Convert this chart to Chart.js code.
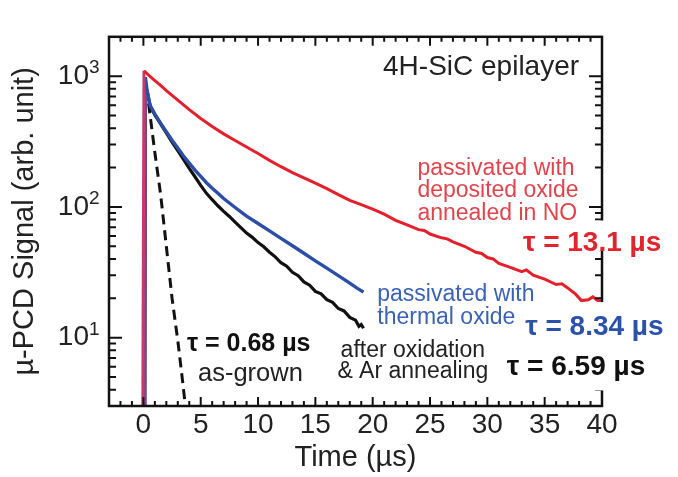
<!DOCTYPE html>
<html>
<head>
<meta charset="utf-8">
<script src="https://cdn.jsdelivr.net/npm/chart.js@4.4.1/dist/chart.umd.min.js"></script>
<style>
  html, body { margin: 0; padding: 0; background: #fff; }
</style>
</head>
<body>
<canvas id="pcd" width="678" height="477"></canvas>
<script>
// µ-PCD decay curves, time in µs, signal in arb. units
var timeTicks = [0, 5, 10, 15, 20, 25, 30, 35, 40];
var signalTicks = [10, 100, 1000];

// passivated with deposited oxide, annealed in NO
var noTime   = [-0.05, 0.05, 0.5, 1, 1.5, 2, 3, 4, 5, 6, 7, 8, 9, 10, 11, 12, 13, 14, 15, 16, 17, 18, 19, 20, 21, 22, 23, 24, 24.5, 25, 26, 26.5, 27, 28, 29, 29.5, 30, 30.5, 31, 32, 33, 33.4, 34, 35, 36, 36.5, 37, 37.7, 38.2, 38.8, 39.2, 39.6, 40];
var noSignal = [3, 1100, 1010, 925, 850, 775, 655, 555, 475, 412, 362, 322, 287, 256, 227, 203, 183, 167, 152, 138, 124, 112, 104, 96, 88, 79, 73, 67, 66, 62, 58, 57, 54, 50, 45, 44, 41, 40, 37, 34.5, 32, 33, 30, 28, 25.5, 25.8, 24, 21.5, 19.2, 19.5, 20.5, 19.3, 19];

// passivated with thermal oxide
var thermalTime   = [0.12, 0.17, 0.3, 0.57, 1, 1.5, 2, 2.5, 3, 3.5, 4, 4.5, 5, 5.5, 6, 6.5, 7, 8, 9, 10, 11, 12, 13, 14, 15, 16, 17, 18, 18.6, 19.2];
var thermalSignal = [3, 980, 800, 600, 513, 437, 376, 324, 282, 245, 216, 191, 171, 153, 139, 127, 116, 99, 85, 74.6, 65.5, 57.4, 50.4, 44.2, 38.7, 34, 29.8, 26.1, 24, 22.3];

// after oxidation & Ar annealing
var arTime   = [0.12, 0.17, 0.3, 0.6, 1, 1.5, 2, 2.5, 3, 3.5, 4, 4.5, 5, 5.5, 6, 6.5, 7, 7.5, 8, 8.5, 9, 9.5, 10, 10.5, 11, 11.5, 12, 12.5, 13, 13.5, 14, 14.5, 15, 15.5, 16, 16.5, 17, 17.5, 18, 18.5, 18.8, 19, 19.2];
var arSignal = [3, 900, 780, 590, 505, 432, 368, 313, 269, 231, 197, 170, 146, 127, 113.5, 102, 92.5, 84.5, 76.6, 69.5, 63, 58.5, 53.3, 49.5, 45, 41.5, 37.4, 35.2, 31.6, 29.8, 26.7, 25.2, 22.6, 21.6, 19.5, 18.6, 16.7, 16, 14.3, 13.6, 12.2, 12.6, 11.8];

// as-grown
var grownTime   = [0.45, 1.0, 1.5, 2.0, 2.5, 3.0, 3.4, 3.7];
var grownSignal = [620, 260, 125, 50, 20, 9.5, 4.8, 2.8];

function pts(xs, ys) {
  return xs.map(function (x, i) { return { x: x, y: ys[i] }; });
}

var FONT = "'Liberation Sans', Arial, Helvetica, sans-serif";

var notes = [
  { lines: ['4H-SiC epilayer'], x: 20.9, y: 1178, color: '#222', size: 28, bold: false, align: 'left' },
  { lines: ['passivated with', 'deposited oxide', 'annealed in NO'], x: 23.9, y: 197, color: '#e0444c', size: 23, bold: false, align: 'left', lh: 22.5 },
  { lines: ['\u03c4 = 13.1 \u00b5s'], x: 33.1, y: 52.5, color: '#e0252f', size: 28, bold: true, align: 'left', box: [-23, 6] },
  { lines: ['passivated with', 'thermal oxide'], x: 20.4, y: 21.2, color: '#3a62b6', size: 23, bold: false, align: 'left', lh: 22.5 },
  { lines: ['\u03c4 = 8.34 \u00b5s'], x: 33.3, y: 12.05, color: '#2b52aa', size: 28, bold: true, align: 'left', box: [-25, 30] },
  { lines: ['after oxidation', '& Ar annealing'], x: 23.5, y: 7.97, color: '#222', size: 23, bold: false, align: 'center', lh: 21.5 },
  { lines: ['\u03c4 = 6.59 \u00b5s'], x: 31.7, y: 5.92, color: '#111', size: 28, bold: true, align: 'left', box: [-16, 23] },
  { lines: ['\u03c4 = 0.68 \u00b5s'], x: 3.8, y: 8.96, color: '#111', size: 25, bold: true, align: 'left' },
  { lines: ['as-grown'], x: 4.76, y: 5.27, color: '#222', size: 25.5, bold: false, align: 'left' }
];

// frame with inward ticks on all four sides, decade exponents, then the text notes
var framePlugin = {
  id: 'frame',
  afterDraw: function (chart) {
    var ctx = chart.ctx, a = chart.chartArea;
    var xs = chart.scales.x, ys = chart.scales.y;
    ctx.save();
    ctx.strokeStyle = '#111';
    ctx.lineWidth = 2;
    var i, px, py, len;
    for (i = -2; i <= 39; i++) {
      px = xs.getPixelForValue(i);
      len = (i % 5 === 0) ? 9 : 5;
      ctx.beginPath();
      ctx.moveTo(px, a.bottom); ctx.lineTo(px, a.bottom - len);
      ctx.moveTo(px, a.top); ctx.lineTo(px, a.top + len);
      ctx.stroke();
    }
    for (var d = 1; d <= 1000; d *= 10) {
      for (var m = 1; m <= 9; m++) {
        var v = d * m;
        if (v <= ys.min || v >= ys.max) continue;
        py = ys.getPixelForValue(v);
        len = (m === 1) ? 13 : 7;
        ctx.beginPath();
        ctx.moveTo(a.left, py); ctx.lineTo(a.left + len, py);
        ctx.moveTo(a.right, py); ctx.lineTo(a.right - len, py);
        ctx.stroke();
      }
    }
    ctx.lineWidth = 2.5;
    ctx.strokeRect(a.left, a.top, a.right - a.left, a.bottom - a.top);

    // exponents of the y tick labels ("10" is drawn by the scale)
    ctx.fillStyle = '#222';
    ctx.font = '19px ' + FONT;
    ctx.textAlign = 'left';
    ctx.textBaseline = 'middle';
    signalTicks.forEach(function (v) {
      ctx.fillText(String(Math.round(Math.log10(v))), a.left - 20, ys.getPixelForValue(v) - 8);
    });

    notes.forEach(function (n) {
      var x0 = xs.getPixelForValue(n.x), y0 = ys.getPixelForValue(n.y);
      ctx.font = (n.bold ? 'bold ' : '') + n.size + 'px ' + FONT;
      ctx.textAlign = n.align;
      if (n.box) {
        var w = ctx.measureText(n.lines[0]).width;
        ctx.fillStyle = '#fff';
        ctx.fillRect(x0 - 4, y0 + n.box[0], w + 8, n.box[1] - n.box[0]);
      }
      ctx.fillStyle = n.color;
      n.lines.forEach(function (t, k) {
        ctx.fillText(t, x0, y0 + k * (n.lh || 0));
      });
    });
    ctx.restore();
  }
};

// the vertical rise at t = 0 looks purple where red and blue overlap
function riseColor(col) {
  return function (c) { return c.p0DataIndex === 0 ? col : undefined; };
}

new Chart(document.getElementById('pcd'), {
  type: 'scatter',
  data: {
    datasets: [
      { label: 'deposited oxide + NO', data: pts(noTime, noSignal), borderColor: '#e3202b', borderWidth: 3, segment: { borderColor: riseColor('#c83a6e') } },
      { label: 'thermal oxide', data: pts(thermalTime, thermalSignal), borderColor: '#2c4ea6', borderWidth: 3.4, segment: { borderColor: riseColor('#7a4592') } },
      { label: 'oxidation + Ar', data: pts(arTime, arSignal), borderColor: '#111111', borderWidth: 3.2 },
      { label: 'as-grown', data: pts(grownTime, grownSignal), borderColor: '#111111', borderWidth: 3, borderDash: [10, 6] }
    ].map(function (ds) {
      ds.showLine = true;
      ds.pointRadius = 0;
      ds.pointHoverRadius = 0;
      ds.tension = 0;
      ds.fill = false;
      return ds;
    })
  },
  options: {
    responsive: false,
    animation: false,
    devicePixelRatio: 1,
    layout: { padding: { left: 0, right: 76, top: 13, bottom: 0 } },
    plugins: { legend: { display: false }, tooltip: { enabled: false } },
    scales: {
      x: {
        type: 'linear',
        min: -3,
        max: 40,
        afterFit: function (s) { s.height = 71; },
        afterBuildTicks: function (s) { s.ticks = timeTicks.map(function (v) { return { value: v }; }); },
        grid: { display: false, drawTicks: false },
        border: { display: false },
        ticks: { padding: 2, color: '#222', font: { family: FONT, size: 28 }, maxRotation: 0, autoSkip: false },
        title: { display: true, text: 'Time (\u00b5s)', color: '#222', font: { family: FONT, size: 29 }, padding: { top: 0, bottom: 2 } }
      },
      y: {
        type: 'logarithmic',
        min: 3,
        max: 2000,
        afterFit: function (s) { s.width = 109; },
        afterBuildTicks: function (s) { s.ticks = signalTicks.map(function (v) { return { value: v }; }); },
        grid: { display: false, drawTicks: false },
        border: { display: false },
        ticks: {
          padding: 20, color: '#222', font: { family: FONT, size: 28 }, autoSkip: false,
          callback: function () { return '10'; }
        },
        title: { display: true, text: '\u00b5-PCD Signal (arb. unit)', color: '#222', font: { family: FONT, size: 29 }, padding: { top: 8, bottom: 0 } }
      }
    }
  },
  plugins: [framePlugin]
});
</script>
</body>
</html>
